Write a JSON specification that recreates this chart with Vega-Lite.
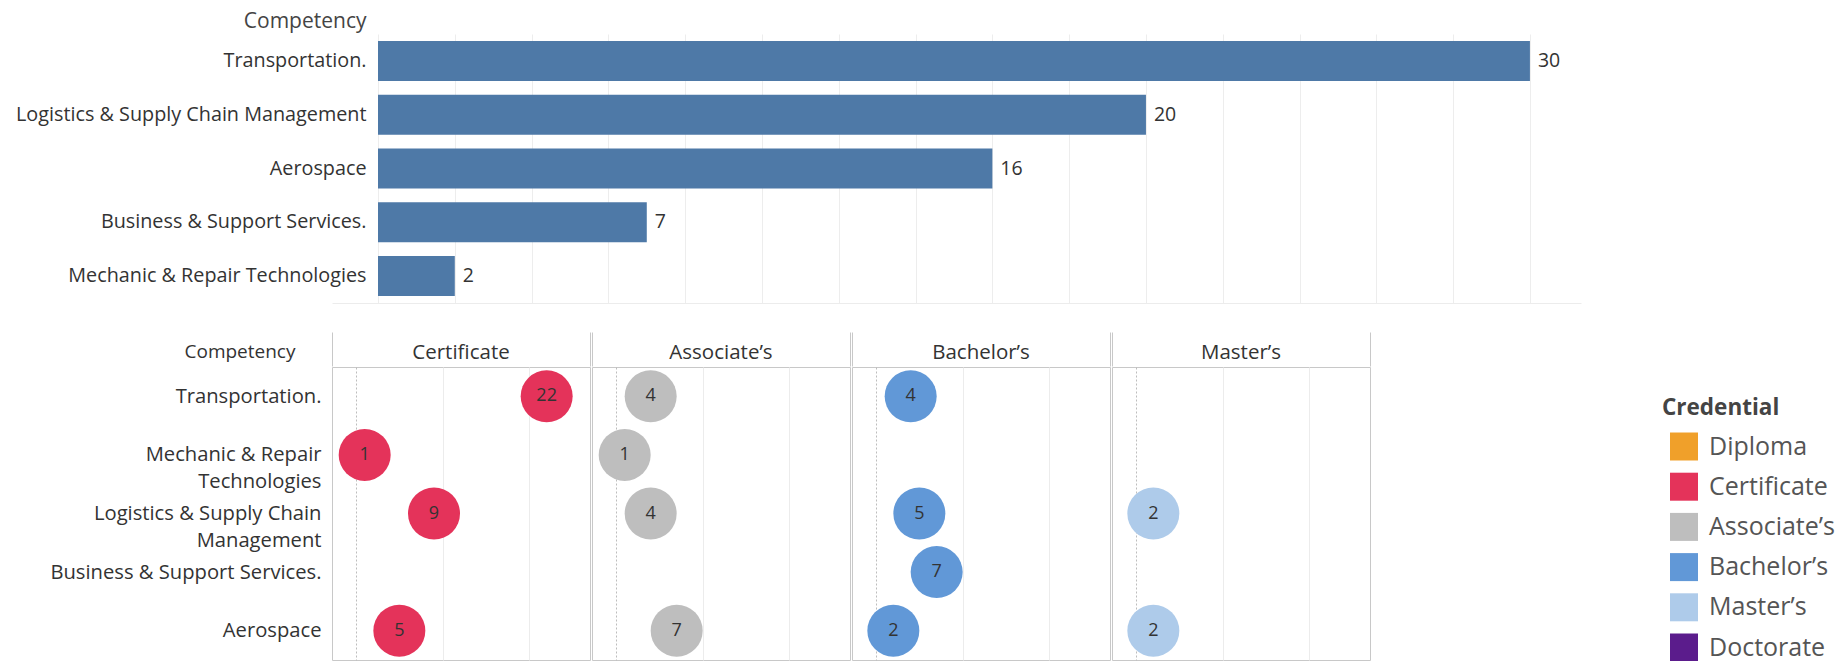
{
  "$schema": "https://vega.github.io/schema/vega-lite/v6.json",
  "padding": {"left": 14, "top": 10, "right": 10, "bottom": 0},
  "background": "white",
  "config": {"font": "Open Sans", "view": {"stroke": null}},
  "datasets": {
    "totals": [
      {"Competency": "Transportation.", "Count": 30},
      {"Competency": "Logistics & Supply Chain Management", "Count": 20},
      {"Competency": "Aerospace", "Count": 16},
      {"Competency": "Business & Support Services.", "Count": 7},
      {"Competency": "Mechanic & Repair Technologies", "Count": 2}
    ],
    "detail": [
      {"Competency": "Transportation.", "Credential": "Certificate", "Count": 22},
      {"Competency": "Transportation.", "Credential": "Associate’s", "Count": 4},
      {"Competency": "Transportation.", "Credential": "Bachelor’s", "Count": 4},
      {"Competency": "Mechanic & Repair Technologies", "Credential": "Certificate", "Count": 1},
      {"Competency": "Mechanic & Repair Technologies", "Credential": "Associate’s", "Count": 1},
      {"Competency": "Logistics & Supply Chain Management", "Credential": "Certificate", "Count": 9},
      {"Competency": "Logistics & Supply Chain Management", "Credential": "Associate’s", "Count": 4},
      {"Competency": "Logistics & Supply Chain Management", "Credential": "Bachelor’s", "Count": 5},
      {"Competency": "Logistics & Supply Chain Management", "Credential": "Master’s", "Count": 2},
      {"Competency": "Business & Support Services.", "Credential": "Bachelor’s", "Count": 7},
      {"Competency": "Aerospace", "Credential": "Certificate", "Count": 5},
      {"Competency": "Aerospace", "Credential": "Associate’s", "Count": 7},
      {"Competency": "Aerospace", "Credential": "Bachelor’s", "Count": 2},
      {"Competency": "Aerospace", "Credential": "Master’s", "Count": 2}
    ]
  },
  "spacing": 28,
  "vconcat": [
    {
      "width": 1249,
      "height": 269,
      "data": {"name": "totals"},
      "encoding": {
        "y": {
          "field": "Competency", "type": "nominal",
          "sort": ["Transportation.", "Logistics & Supply Chain Management", "Aerospace", "Business & Support Services.", "Mechanic & Repair Technologies"],
          "scale": {"paddingInner": 0.256, "paddingOuter": 0.128},
          "axis": {
            "title": "Competency", "titleAngle": 0, "titleAlign": "right", "titleBaseline": "middle",
            "titleX": 34, "titleY": -13, "titleFontSize": 21, "titleFontWeight": "normal", "titleColor": "#444",
            "labelFontSize": 19.8, "labelColor": "#333", "labelPadding": -34, "labelLimit": 600,
            "ticks": false, "tickSize": 0, "domain": false, "grid": false,
            "minExtent": 317, "maxExtent": 317
          }
        },
        "x": {
          "field": "Count", "type": "quantitative",
          "scale": {"domain": [-1.198, 31.33], "nice": false, "zero": false},
          "axis": {
            "title": null, "labels": false, "ticks": false, "domain": true, "domainColor": "#ececec",
            "grid": true, "gridColor": "#ededed",
            "values": [0, 2, 4, 6, 8, 10, 12, 14, 16, 18, 20, 22, 24, 26, 28, 30]
          }
        }
      },
      "layer": [
        {"mark": {"type": "bar", "color": "#4E79A7"}, "encoding": {"x2": {"datum": 0}}},
        {"mark": {"type": "text", "align": "left", "baseline": "middle", "dx": 8, "fontSize": 19.5, "color": "#333"},
         "encoding": {"text": {"field": "Count", "type": "quantitative"}}}
      ]
    },
    {
      "data": {"name": "detail"},
      "facet": {
        "column": {
          "field": "Credential", "type": "nominal",
          "sort": ["Certificate", "Associate’s", "Bachelor’s", "Master’s"],
          "header": {"title": null, "labelFontSize": 20.5, "labelColor": "#333", "labelOrient": "top", "labelPadding": -32}
        }
      },
      "spacing": {"column": 0},
      "spec": {
        "width": 258,
        "height": 293,
        "view": {"stroke": "#c8c8c8"},
        "encoding": {
          "y": {
            "field": "Competency", "type": "nominal",
            "sort": ["Transportation.", "Mechanic & Repair Technologies", "Logistics & Supply Chain Management", "Business & Support Services.", "Aerospace"],
            "axis": {
              "title": "Competency", "titleAngle": 0, "titleAlign": "right", "titleBaseline": "middle",
              "titleX": -36, "titleY": -16, "titleFontSize": 19, "titleFontWeight": "normal", "titleColor": "#333",
              "labelFontSize": 20.2, "labelColor": "#333", "labelPadding": 10, "labelLimit": 600, "labelLineHeight": 27,
              "labelExpr": "datum.value == 'Mechanic & Repair Technologies' ? ['Mechanic & Repair', 'Technologies'] : datum.value == 'Logistics & Supply Chain Management' ? ['Logistics & Supply Chain', 'Management'] : datum.value",
              "ticks": false, "tickSize": 0, "domain": false, "grid": false,
              "minExtent": 317, "maxExtent": 317
            }
          },
          "x": {
            "field": "Count", "type": "quantitative",
            "scale": {"domain": [-2.77, 27], "nice": false, "zero": false},
            "axis": {
              "orient": "top", "title": null, "labels": false, "domain": false,
              "values": [-2.77, 0, 10, 20, 27],
              "ticks": true, "tickSize": 34,
              "tickColor": {"condition": {"test": "datum.value < -1 || datum.value > 26", "value": "#c8c8c8"}, "value": "transparent"},
              "grid": true,
              "gridOpacity": {"condition": {"test": "datum.value > -1 && datum.value < 21", "value": 1}, "value": 0},
              "gridColor": {"condition": {"test": "datum.value == 0", "value": "#bdbdbd"}, "value": "#ececec"},
              "gridDash": {"condition": {"test": "datum.value == 0", "value": [2, 2]}, "value": []}
            }
          }
        },
        "layer": [
          {
            "mark": {"type": "circle", "size": 2704, "opacity": 1},
            "encoding": {
              "color": {
                "field": "Credential", "type": "nominal",
                "scale": {
                  "domain": ["Diploma", "Certificate", "Associate’s", "Bachelor’s", "Master’s", "Doctorate"],
                  "range": ["#F0A02A", "#E4335A", "#BEBEBE", "#6198D7", "#AECBEA", "#5B1C8C"]
                },
                "legend": {
                  "orient": "none", "legendX": 1330, "legendY": 363,
                  "title": "Credential", "titleFontSize": 22.5, "titleFontWeight": "bold", "titleColor": "#444",
                  "labelFontSize": 25, "labelColor": "#555", "symbolType": "square", "symbolSize": 784,
                  "symbolOffset": 8, "symbolStrokeWidth": 0, "symbolOpacity": 1, "rowPadding": 12.2,
                  "labelOffset": 11, "titlePadding": 13, "padding": 0
                }
              }
            }
          },
          {
            "mark": {"type": "text", "fontSize": 18, "color": "#333", "baseline": "middle"},
            "encoding": {"text": {"field": "Count", "type": "quantitative"}}
          }
        ]
      }
    }
  ]
}
